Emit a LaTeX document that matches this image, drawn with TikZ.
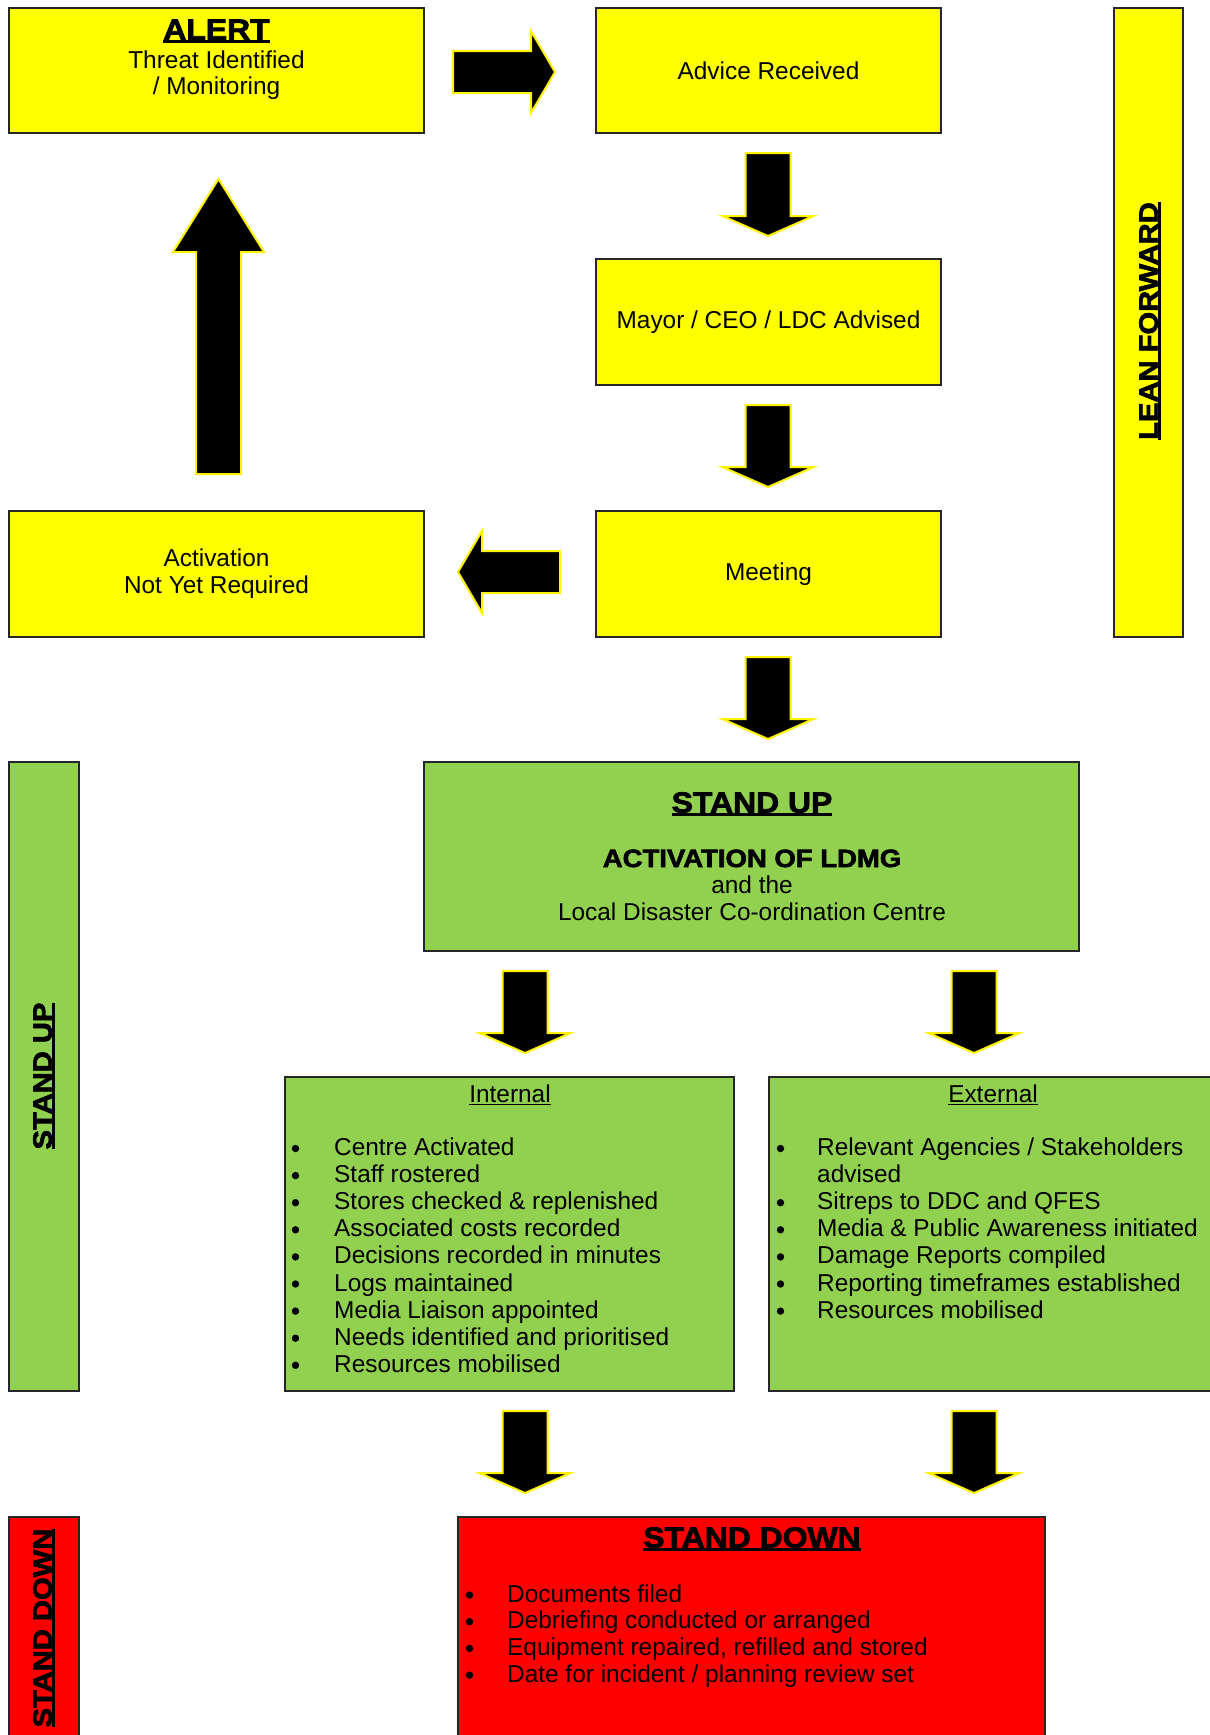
\documentclass[tikz,border=0pt]{standalone}
\usepackage{fontspec}
\setmainfont{Liberation Sans}
\newfontface\heavyface{Liberation Sans Bold}[FakeStretch=1.1, FakeBold=2.5]

\definecolor{phaseyellow}{HTML}{FFFF00}
\definecolor{phasegreen}{HTML}{92D050}
\definecolor{phasered}{HTML}{FF0000}
\definecolor{edgegray}{HTML}{262626}

\newcommand{\fBody}{\fontsize{24.4}{27}\selectfont}
\newcommand{\fHead}{\heavyface\fontsize{29}{32}\selectfont}
\newcommand{\fSide}{\heavyface\fontsize{26.5}{30}\selectfont}
\newcommand{\fLdmg}{\heavyface\fontsize{25}{28}\selectfont}
% underline with adjustable rule thickness
\newcommand{\undl}[2][0.06em]{\leavevmode\setbox0\hbox{#2}\rlap{\rule[-0.12em]{\wd0}{#1}}\box0}

\tikzset{
  panel/.style={draw=edgegray, line width=1.3pt, inner sep=0pt, outer sep=0pt},
  ybox/.style={panel, fill=phaseyellow, font=\fBody, align=center},
  gbox/.style={panel, fill=phasegreen},
  rbox/.style={panel, fill=phasered},
  txt/.style={inner sep=0pt, font=\fBody, align=center, anchor=base},
  head/.style={inner sep=0pt, font=\fHead, anchor=base},
  side/.style={inner sep=0pt, font=\fSide, rotate=90},
  item/.style={inner sep=0pt, font=\fBody, anchor=base west},
  dot/.style={fill=black},
  blockarrow/.style={fill=black, draw=yellow, line width=2pt, line join=miter},
}

% block arrows: centre line, start, end
\newcommand{\downblock}[3]{%
  \draw[blockarrow] (#1-22.5,#2) -- (#1+22.5,#2) -- (#1+22.5,#3-20) -- (#1+45.5,#3-20)
    -- (#1,#3) -- (#1-45.5,#3-20) -- (#1-22.5,#3-20) -- cycle;}

\begin{document}
\begin{tikzpicture}[x=1pt, y=-1pt]
\useasboundingbox (0,0) rectangle (1210,1735);
\clip (0,0) rectangle (1210,1735);

% ---------- LEAN FORWARD ----------
\node[ybox, minimum width=415, minimum height=125] (alert) at (216.5,70.5) {};
\node[head] (alerthead) at (216.5,39.5) {\undl[0.09em]{ALERT}};
\node[txt] (alerttxt) at (216.5,94) {Threat Identified\\[-1pt]/ Monitoring};

\node[ybox, minimum width=345, minimum height=125] (advice) at (768.5,70.5) {Advice Received};
\node[ybox, minimum width=345, minimum height=126] (mayor) at (768.5,322) {Mayor / CEO / LDC Advised};
\node[ybox, minimum width=345, minimum height=126] (meeting) at (768.5,574) {Meeting};
\node[ybox, minimum width=415, minimum height=126] (notyet) at (216.5,574) {Activation\\Not Yet Required};

\node[panel, fill=phaseyellow, minimum width=69, minimum height=629] (leanbar) at (1148.5,322.5) {};
\node[side] (leanlbl) at (1150,321) {\undl[0.09em]{LEAN FORWARD}};

% arrows of the monitoring loop
\draw[blockarrow] (453,51) -- (531,51) -- (531,31) -- (555,72) -- (531,113) -- (531,93) -- (453,93) -- cycle;
\downblock{768}{153}{236}
\downblock{768}{405}{487}
\draw[blockarrow] (560,551) -- (482,551) -- (482,531) -- (458,572) -- (482,613) -- (482,593) -- (560,593) -- cycle;
\draw[blockarrow] (196,474) -- (196,252) -- (173,252) -- (218.5,179) -- (264,252) -- (241,252) -- (241,474) -- cycle;
\downblock{768}{657}{739}

% ---------- STAND UP ----------
\node[gbox, minimum width=70, minimum height=629] (standupbar) at (44,1076.5) {};
\node[side] (standuplbl) at (44,1076) {\undl[0.09em]{STAND UP}};

\node[gbox, minimum width=655, minimum height=189] (standup) at (751.5,856.5) {};
\node[head] (standuphead) at (752,812.5) {\undl[0.09em]{STAND UP}};
\node[txt, font=\fLdmg] (ldmg) at (752,867) {ACTIVATION OF LDMG};
\node[txt] (ldcc) at (752,920) {and the\\[-0.5pt]Local Disaster Co-ordination Centre};

\downblock{525}{971}{1053}
\downblock{974}{971}{1053}

\node[gbox, minimum width=449, minimum height=314] (internal) at (509.5,1234) {};
\node[txt] (inthead) at (510,1102.5) {\undl{Internal}};
\foreach \t [count=\k from 0] in {Centre Activated, Staff rostered, Stores checked \& replenished,
    Associated costs recorded, Decisions recorded in minutes, Logs maintained,
    Media Liaison appointed, Needs identified and prioritised, Resources mobilised}
  {\fill[dot] (295.5,1148.5+27.1*\k) circle (3.7);
   \node[item] (int\k) at (334,1155.5+27.1*\k) {\t};}

\node[gbox, minimum width=448, minimum height=314] (external) at (993,1234) {};
\node[txt] (exthead) at (993,1102.5) {\undl{External}};
\fill[dot] (780.5,1148.5) circle (3.7);
\node[item] (ext0) at (817,1155.5) {Relevant Agencies / Stakeholders};
\node[item] (ext1) at (817,1182.6) {advised};
\foreach \t [count=\k from 2] in {Sitreps to DDC and QFES, Media \& Public Awareness initiated,
    Damage Reports compiled, Reporting timeframes established, Resources mobilised}
  {\fill[dot] (780.5,1148.5+27.1*\k) circle (3.7);
   \node[item] (ext\k) at (817,1155.5+27.1*\k) {\t};}

\downblock{525}{1411}{1493}
\downblock{974}{1411}{1493}

% ---------- STAND DOWN ----------
\node[rbox, minimum width=70, minimum height=243] (standdownbar) at (44,1638.5) {};
\node[side] (standdownlbl) at (44,1628) {\undl[0.09em]{STAND DOWN}};

\node[rbox, minimum width=587, minimum height=243] (standdown) at (751.5,1638.5) {};
\node[head] (standdownhead) at (752,1547.5) {\undl[0.09em]{STAND DOWN}};
\foreach \t [count=\k from 0] in {Documents filed, Debriefing conducted or arranged,
    {Equipment repaired, refilled and stored}, Date for incident / planning review set}
  {\fill[dot] (469.5,1595+26.7*\k) circle (3.7);
   \node[item] (sd\k) at (507,1602+26.7*\k) {\t};}
\end{tikzpicture}
\end{document}
